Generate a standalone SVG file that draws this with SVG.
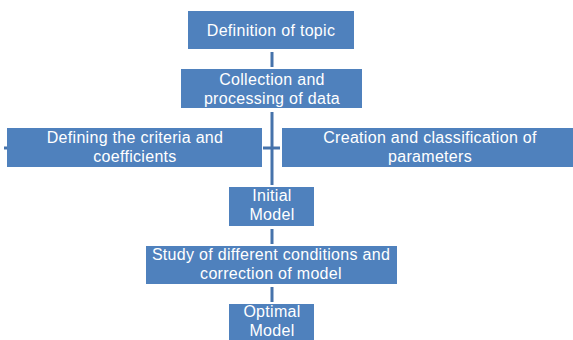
<svg xmlns="http://www.w3.org/2000/svg" width="573" height="340" viewBox="0 0 573 340">
<style>
.box{fill:#4f81bd;}
.t{font-family:"Liberation Sans",Arial,sans-serif;font-size:16px;letter-spacing:0.3px;fill:#ffffff;text-anchor:middle;}
.c{stroke:#4673ab;stroke-width:3;fill:none;}
</style>
<rect width="573" height="340" fill="#ffffff"/>
<g id="connectors">
<line class="c" x1="272" y1="52" x2="272" y2="67"/>
<line class="c" x1="272" y1="112" x2="272" y2="185"/>
<line class="c" x1="263" y1="148" x2="280" y2="148"/>
<line class="c" x1="4" y1="148" x2="8" y2="148"/>
<line class="c" x1="272" y1="229" x2="272" y2="244"/>
<line class="c" x1="272" y1="287" x2="272" y2="302"/>
</g>
<g id="n1"><rect class="box" x="188" y="11" width="166" height="38"/><text class="t" x="271" y="36">Definition of topic</text></g>
<g id="n2"><rect class="box" x="181" y="69" width="181" height="39"/><text class="t" x="272" y="85">Collection and</text><text class="t" x="272" y="103.5">processing of data</text></g>
<g id="n3"><rect class="box" x="7" y="128" width="255" height="39"/><text class="t" x="135" y="143">Defining the criteria and</text><text class="t" x="135" y="162">coefficients</text></g>
<g id="n4"><rect class="box" x="282" y="128" width="291" height="39"/><text class="t" x="430" y="143">Creation and classification of</text><text class="t" x="430" y="162">parameters</text></g>
<g id="n5"><rect class="box" x="229" y="187" width="85" height="39"/><text class="t" x="272" y="201">Initial</text><text class="t" x="272" y="220">Model</text></g>
<g id="n6"><rect class="box" x="146" y="246" width="251" height="38"/><text class="t" x="271" y="260">Study of different conditions and</text><text class="t" x="271" y="279">correction of model</text></g>
<g id="n7"><rect class="box" x="229" y="304" width="85" height="40"/><text class="t" x="272" y="317">Optimal</text><text class="t" x="272" y="336">Model</text></g>
</svg>
